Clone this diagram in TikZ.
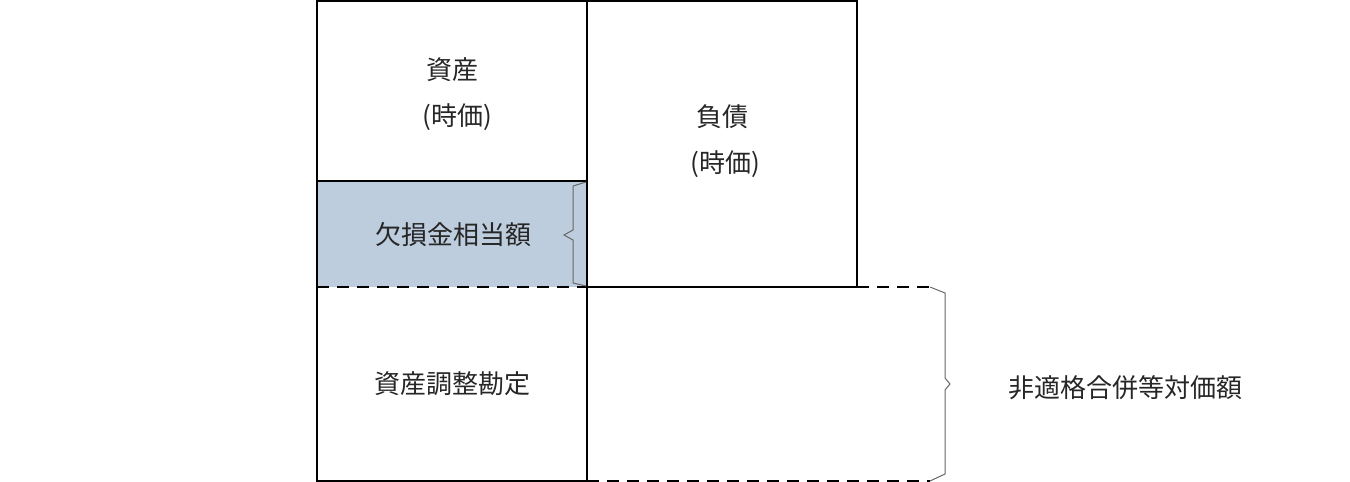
\documentclass[tikz,border=0pt]{standalone}
\usepackage{fontspec}
\setmainfont{Noto Sans CJK JP}
\begin{document}
\begin{tikzpicture}[x=1pt,y=-1pt,
  box/.style={draw=black,line width=1.5pt},
  dashline/.style={draw=black,line width=1.5pt,dash pattern=on 12pt off 8pt},
  brc/.style={draw=black!60,line width=1pt},
  lbl/.style={font=\fontsize{26}{32}\selectfont,align=center,text=black!85}]
\useasboundingbox (0,0) rectangle (1350,482);
\fill[fill={rgb,255:red,190;green,205;blue,222}] (317,181) rectangle (587,287);
\draw[box] (317,1) rectangle (587,481);
\draw[box] (317,181) -- (587,181);
\draw[dashline] (317,287) -- (587,287);
\draw[box] (587,1) rectangle (857,287);
\draw[dashline] (857,287) -- (930,287);
\draw[dashline] (587,481) -- (930,481);
\coordinate (b1) at (930,287);
\coordinate (b2) at (930,481);
\draw[brc] (b1) -- (945,293) -- (945,378) -- (950,384) -- (945,390) -- (945,474) -- (b2);
\draw[brc] (586,182) -- (573,186) -- (573,230) -- (564,235) -- (573,240) -- (573,283) -- (586,286);
\node[lbl] (a) at (452,70) {資産};
\node[lbl] (at) at (457,117) {(時価)};
\node[lbl] (l) at (722,117) {負債};
\node[lbl] (lt) at (725,164) {(時価)};
\node[lbl] (k) at (453,235) {欠損金相当額};
\node[lbl] (c) at (452,384) {資産調整勘定};
\node[lbl] (h) at (1125,388) {非適格合併等対価額};
\end{tikzpicture}
\end{document}
